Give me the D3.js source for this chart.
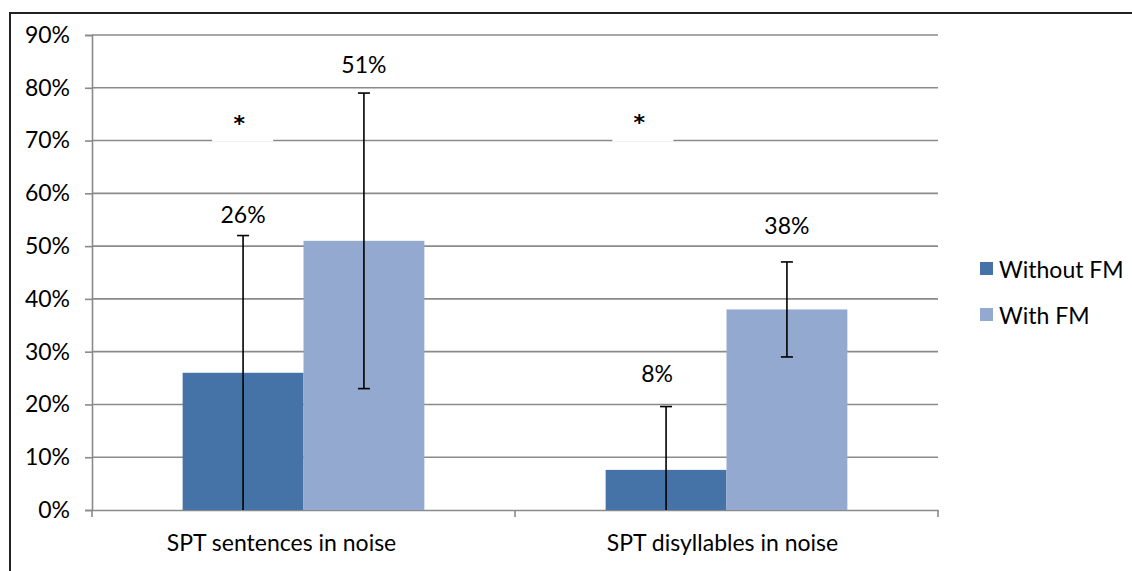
<!DOCTYPE html>
<html><head><meta charset="utf-8">
<script src="https://cdn.jsdelivr.net/npm/d3@7"></script>
<style>body{margin:0;background:#fff}svg{display:block}text{font-family:Lato,"Open Sans",sans-serif;fill:#000}</style>
</head><body><svg id="c" width="1132" height="571"></svg>
<script>
const categories = ["SPT sentences in noise", "SPT disyllables in noise"];
const seriesNames = ["Without FM", "With FM"];
const withoutFM = [26, 7.6];
const withFM = [51, 38];
const withoutFMErr = [26, 12];
const withFMErr = [28, 9];
const withoutFMLabelAt = [56, 26];
const withFMLabelAt = [84.5, 54];
const starAt = [74.5, 74.8];
const yTicks = [0,10,20,30,40,50,60,70,80,90];
const colors = ["#4572A7", "#93A9CF"];

const svg = d3.select("#c");
const W = 1132, H = 571;
const FS = "23px";
const m = {l:92, r:194, t:35, b:61};
const x0 = d3.scaleBand().domain(categories).range([m.l, W - m.r]).paddingInner(0).paddingOuter(0);
const x1 = d3.scaleBand().domain(seriesNames).range([0, x0.bandwidth()]).paddingInner(0).paddingOuter(0.75);
const y = d3.scaleLinear().domain([0, 90]).range([H - m.b, m.t]);

// frame
svg.append("rect").attr("x",10).attr("y",13).attr("width",W+20).attr("height",H+20)
  .attr("fill","none").attr("stroke","#222").attr("stroke-width",2);

// gridlines
svg.append("g").selectAll("line").data(yTicks.filter(d=>d>0)).join("line")
  .attr("x1", m.l).attr("x2", W - m.r).attr("y1", d=>y(d)).attr("y2", d=>y(d))
  .attr("stroke","#8a8a8a").attr("stroke-width",1.6);

// y axis
const yAxis = d3.axisLeft(y).tickValues(yTicks).tickFormat(d=>d+"%").tickSize(7).tickPadding(15);
const gy = svg.append("g").attr("transform",`translate(${m.l},0)`).call(yAxis);
gy.select(".domain").attr("stroke","#8a8a8a").attr("stroke-width",1.6);
gy.selectAll(".tick line").attr("stroke","#8a8a8a").attr("stroke-width",1.6);
gy.selectAll("text").style("font-size",FS).attr("fill","#000");

// x axis
const labelShift = [-22, -4];
const xAxis = d3.axisBottom(x0).tickSize(0).tickPadding(25);
const gx = svg.append("g").attr("transform",`translate(0,${y(0)})`).call(xAxis);
gx.select(".domain").attr("stroke","#8a8a8a").attr("stroke-width",1.6);
gx.selectAll("text").style("font-size",FS).attr("fill","#000").attr("dx",(d,i)=>labelShift[i]);
gx.selectAll(".xt").data([m.l].concat(categories.map(c=>x0(c)+x0.bandwidth()))).join("line")
  .attr("x1",d=>d).attr("x2",d=>d).attr("y1",0).attr("y2",7).attr("stroke","#8a8a8a").attr("stroke-width",1.6);

// bars
const series = [
  {name: seriesNames[0], vals: withoutFM, err: withoutFMErr, lab: withoutFMLabelAt, color: colors[0]},
  {name: seriesNames[1], vals: withFM, err: withFMErr, lab: withFMLabelAt, color: colors[1]}
];
series.forEach(s => {
  const g = svg.append("g");
  g.selectAll("rect").data(categories).join("rect")
    .attr("x", c=>x0(c)+x1(s.name)).attr("width", x1.bandwidth())
    .attr("y", (c,i)=>y(s.vals[i])).attr("height", (c,i)=>y(0)-y(s.vals[i]))
    .attr("fill", s.color);
});
series.forEach(s => {
  const g = svg.append("g");
  categories.forEach((c,i)=>{
    const cx = x0(c)+x1(s.name)+x1.bandwidth()/2;
    const lo = Math.max(0, s.vals[i]-s.err[i]), hi = s.vals[i]+s.err[i];
    g.append("line").attr("x1",cx).attr("x2",cx).attr("y1",y(lo)).attr("y2",y(hi)).attr("stroke","#000").attr("stroke-width",1.6);
    g.append("line").attr("x1",cx-6).attr("x2",cx+6).attr("y1",y(hi)).attr("y2",y(hi)).attr("stroke","#000").attr("stroke-width",1.6);
    if (s.vals[i]-s.err[i] > 0)
      g.append("line").attr("x1",cx-6).attr("x2",cx+6).attr("y1",y(lo)).attr("y2",y(lo)).attr("stroke","#000").attr("stroke-width",1.6);
    const lx = (s.vals[i] < 10) ? cx - 9 : cx;
    g.append("text").attr("x",lx).attr("y",y(s.lab[i])).attr("text-anchor","middle").attr("dominant-baseline","central")
      .style("font-size",FS).text(d3.format(".0f")(s.vals[i])+"%");
  });
});

// significance stars with white box
const starShift = [-0.152, -0.206];
categories.forEach((c,i)=>{
  const cx = x0(c) + x0.bandwidth()/2 + starShift[i]*x0.bandwidth();
  svg.append("rect").attr("x",cx-27).attr("y",y(starAt[i])-18).attr("width",61).attr("height",y(70)-y(starAt[i])+19).attr("fill","#fff");
  svg.append("text").attr("x",cx).attr("y",y(starAt[i])+7).attr("text-anchor","middle").attr("dominant-baseline","central")
    .style("font-family","DejaVu Sans").style("font-size","22px").style("font-weight","bold").text("*");
});

// legend
const lg = svg.append("g");
seriesNames.forEach((n,i)=>{
  const ly = 269 + i*46;
  lg.append("rect").attr("x",980).attr("y",ly-7).attr("width",13).attr("height",13).attr("fill",colors[i]);
  lg.append("text").attr("x",999).attr("y",ly).attr("dominant-baseline","central").style("font-size",FS).text(n);
});
</script></body></html>
